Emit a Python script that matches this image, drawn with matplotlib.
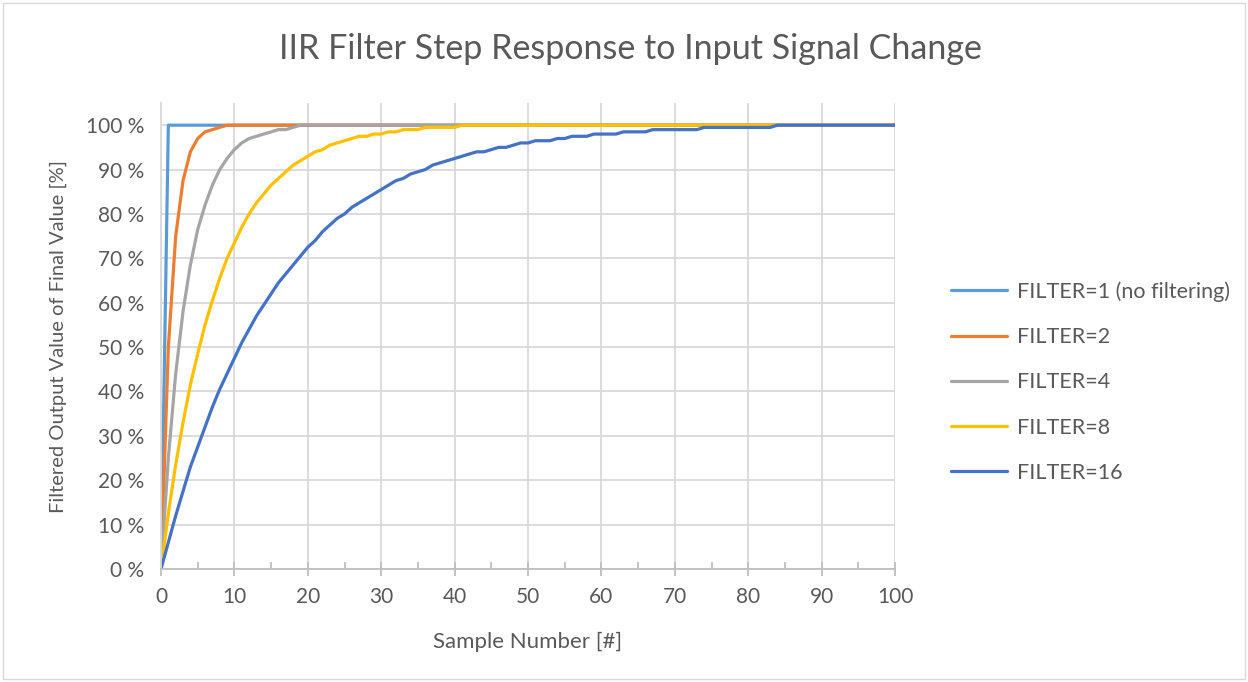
import matplotlib
matplotlib.use("Agg")
import matplotlib.pyplot as plt
from matplotlib.ticker import MultipleLocator, FuncFormatter
from matplotlib.patches import Rectangle

plt.rcParams['font.family'] = ['Lato', 'DejaVu Sans']

samples = list(range(0, 101))

f1 = [0] + [100] * 100
f2 = [0, 50, 75, 87.5, 94, 97, 98.5, 99, 99.5] + [100] * 92
f4 = [0, 25, 44, 58, 68.5, 76.5, 82, 86.5, 90, 92.5, 94.5, 96, 97, 97.5,
      98, 98.5, 99, 99, 99.5] + [100] * 82
f8 = [0, 12.5, 23.5, 33, 41.5, 48.5, 55, 60.5, 65.5, 70, 73.5, 77, 80, 82.5,
      84.5, 86.5, 88, 89.5, 91, 92, 93, 94, 94.5, 95.5, 96, 96.5, 97, 97.5,
      97.5, 98, 98, 98.5, 98.5, 99, 99, 99, 99.5, 99.5, 99.5, 99.5, 99.5] + [100] * 60
f16 = [0, 6, 12, 17.5, 23, 27.5, 32, 36.5, 40.5, 44, 47.5, 51, 54, 57, 59.5,
       62, 64.5, 66.5, 68.5, 70.5, 72.5, 74, 76, 77.5, 79, 80, 81.5, 82.5,
       83.5, 84.5, 85.5, 86.5, 87.5, 88, 89, 89.5, 90, 91, 91.5, 92, 92.5,
       93, 93.5, 94, 94, 94.5, 95, 95, 95.5, 96, 96, 96.5, 96.5, 96.5, 97,
       97, 97.5, 97.5, 97.5, 98, 98, 98, 98, 98.5, 98.5, 98.5, 98.5,
       99, 99, 99, 99, 99, 99, 99, 99.5, 99.5, 99.5, 99.5, 99.5, 99.5,
       99.5, 99.5, 99.5, 99.5] + [100] * 17

series_labels = ["FILTER=1 (no filtering)", "FILTER=2", "FILTER=4", "FILTER=8", "FILTER=16"]
series_values = [f1, f2, f4, f8, f16]
colors = ["#5B9BD5", "#ED7D31", "#A5A5A5", "#FFC000", "#4472C4"]

title = "IIR Filter Step Response to Input Signal Change"
xlabel = "Sample Number [#]"
ylabel = "Filtered Output Value of Final Value [%]"

W, H = 1248, 682
fig = plt.figure(figsize=(W / 100, H / 100), dpi=100)
fig.patches.append(Rectangle((3 / W, 3 / H), 1 - 6 / W, 1 - 6 / H, transform=fig.transFigure,
                             fill=False, edgecolor="#d9d9d9", linewidth=1))
ax = fig.add_axes([161 / W, 1 - 569 / H, (895 - 161) / W, (569 - 103) / H])

for vals, lab, c in zip(series_values, series_labels, colors):
    ax.plot(samples, vals, color=c, linewidth=2.3, label=lab, solid_joinstyle="round",
            solid_capstyle="round")

ax.set_xlim(0, 100)
ax.set_ylim(0, 105)
ax.xaxis.set_major_locator(MultipleLocator(10))
ax.xaxis.set_minor_locator(MultipleLocator(5))
ax.set_yticks(range(0, 101, 10))
ax.yaxis.set_major_formatter(FuncFormatter(lambda v, p: f"{int(v)} %"))
ax.grid(True, which="major", color="#d9d9d9", linewidth=1.3)
ax.set_axisbelow(True)
for s in ["top", "right"]:
    ax.spines[s].set_visible(False)
ax.spines["left"].set_color("#d9d9d9")
ax.spines["bottom"].set_color("#bfbfbf")
ax.spines["left"].set_linewidth(1.3)
ax.spines["bottom"].set_linewidth(1.3)
ax.tick_params(axis="y", length=0, labelsize=15, labelcolor="#595959", pad=12)
ax.tick_params(axis="x", which="major", direction="inout", length=10, color="#bfbfbf",
               width=1.3, labelsize=15, labelcolor="#595959", pad=8)
ax.tick_params(axis="x", which="minor", direction="in", length=5, color="#bfbfbf", width=1.3)

ax.set_xlabel(xlabel, fontsize=16, color="#595959", labelpad=18)
ax.set_ylabel(ylabel, fontsize=14.5, color="#595959", labelpad=14)
fig.text(630 / W, 1 - 49 / H, title, ha="center", va="center", fontsize=24.5,
         color="#595959")

leg = ax.legend(loc="upper left", bbox_to_anchor=(932 / W, 1 - 262 / H),
                bbox_transform=fig.transFigure, frameon=False, fontsize=15.5,
                handlelength=2.6, labelspacing=1.17, handletextpad=0.45)
for t in leg.get_texts():
    t.set_color("#595959")

fig.savefig("out.png", dpi=100)
